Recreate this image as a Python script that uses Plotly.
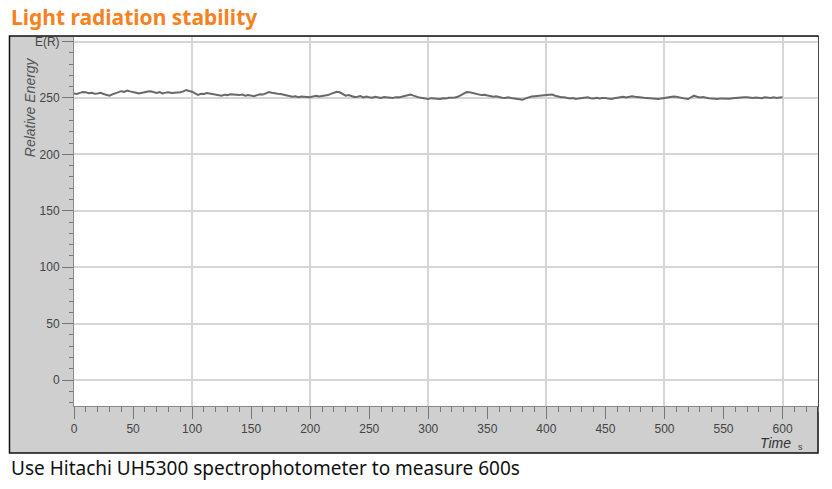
import plotly.graph_objects as go

# relative energy read every 2.5 s (0 .. 600 s)
energy = [
    254, 253.6, 254.5, 255.2, 255, 254.2, 254.5, 253.8, 254, 254.6,
    253.5, 252.8, 252, 253.2, 254, 255.3, 256, 255.4, 256.5, 255.8,
    255.5, 254.6, 254, 254.8, 255, 255.7, 256, 255.1, 254.5, 255.2,
    254, 254.7, 255, 254.3, 254.5, 255.3, 255, 255.8, 257, 256.2,
    255.5, 254, 252.7, 253.6, 253.5, 254.4, 254, 253.2, 253, 252.3,
    252, 252.9, 252.5, 253.3, 253, 252.2, 252.5, 253, 252, 252.6,
    252, 251.6, 252.5, 253.2, 253, 254.2, 255.3, 254.6, 254.5, 253.8,
    253.5, 252.7, 252, 251.5, 251, 251.4, 250.6, 251.2, 251, 250.4,
    250.6, 251.4, 252, 251.2, 251.5, 252.3, 252.5, 253.6, 254.5, 255.4,
    255, 253.4, 252, 252.6, 251.5, 250.9, 251, 251.6, 250.5, 251.2,
    250.6, 250.2, 251, 250.4, 250, 250.8, 250.5, 249.8, 250, 250.7,
    250.5, 251, 251.5, 252.4, 253, 252, 251, 250.3, 250, 249.6,
    249, 249.8, 249.5, 248.9, 249, 249.7, 249.5, 250.2, 250, 250.4,
    251, 252.6, 254, 255.2, 255, 254.3, 254, 253.1, 252.5, 252.8,
    252, 251.3, 251, 251.5, 250.6, 250.1, 250, 250.6, 250, 249.6,
    249, 248.3, 248.5, 249.6, 250.5, 251.2, 251.5, 251.9, 252, 252.6,
    252.5, 252.8, 253, 252, 251, 250.6, 250.5, 249.8, 249.5, 249.9,
    249, 249.6, 250, 250.8, 250.6, 249.8, 249.5, 250.1, 249.5, 249.9,
    250, 249.4, 249, 249.7, 250, 250.7, 251, 250.4, 251, 251.5,
    251, 250.5, 250.6, 250.1, 250, 249.6, 249.5, 249.1, 249, 249.6,
    250, 250.8, 250.6, 251.2, 251, 250.3, 250, 249.4, 249, 250.3,
    252, 251.1, 250.5, 250.9, 250, 249.7, 249.5, 249.2, 249, 249.6,
    249.5, 248.9, 249.3, 249.8, 250, 250.6, 251, 250.7, 250.5, 250.2,
    250, 250.4, 250, 249.8, 250.5, 250.1, 250, 250.5, 250, 250.3,
    250.6,
]
time_s = [i * 2.5 for i in range(len(energy))]

y_ticks = [0, 50, 100, 150, 200, 250, 300]
y_labels = ["0", "50", "100", "150", "200", "250", "E(R)"]

tick_font = dict(family="Liberation Sans Narrow, Liberation Sans, sans-serif", size=12, color="#444")

fig = go.Figure()
fig.add_trace(go.Scatter(x=time_s, y=energy, mode="lines",
                         line=dict(color="#686868", width=2), showlegend=False))
# empty trace that carries the second x axis (grid every 100 s)
fig.add_trace(go.Scatter(x=[0], y=[None], xaxis="x2", showlegend=False, hoverinfo="skip"))

# the page puts the figure 8px in from the corner, so sizes are 8px smaller
fig.update_layout(
    width=824, height=481,
    margin=dict(l=66, r=14, t=29, b=83),
    paper_bgcolor="white", plot_bgcolor="white",
    xaxis=dict(range=[0, 630], dtick=50, tick0=0, showgrid=False, zeroline=False,
               showline=True, linecolor="#888", linewidth=1,
               ticks="outside", ticklen=12, tickcolor="#777", tickwidth=1,
               tickfont=tick_font,
               minor=dict(dtick=10, ticks="outside", ticklen=5, tickcolor="#777", showgrid=False)),
    xaxis2=dict(range=[0, 630], dtick=100, tick0=0, overlaying="x", showgrid=True,
                gridcolor="#d6d6d6", gridwidth=2, showticklabels=False, ticks="",
                zeroline=False, layer="below traces"),
    yaxis=dict(range=[-23, 304], tickvals=y_ticks, ticktext=y_labels,
               showgrid=True, gridcolor="#d6d6d6", gridwidth=2, zeroline=False,
               showline=True, linecolor="#888", linewidth=1,
               ticks="outside", ticklen=11, tickcolor="#777", tickwidth=1,
               tickfont=tick_font,
               minor=dict(dtick=10, ticks="outside", ticklen=4, tickcolor="#777", showgrid=False)),
    shapes=[
        dict(type="rect", xref="paper", yref="paper", x0=-0.0867, x1=1.0, y0=-0.1274, y1=1.0027,
             fillcolor="#cfcfcf", line=dict(color="#111", width=1.5), layer="below"),
        dict(type="rect", xref="paper", yref="paper", x0=0, x1=1.0, y0=0, y1=1.0,
             fillcolor="white", line=dict(width=0), layer="below"),
    ],
    annotations=[
        dict(text="<b>Light radiation stability</b>", xref="paper", yref="paper",
             x=-0.0867, y=1.055, xanchor="left", yanchor="middle", showarrow=False,
             font=dict(family="Noto Sans, sans-serif", size=21, color="#f5821f")),
        dict(text="Use Hitachi UH5300 spectrophotometer to measure 600s", xref="paper", yref="paper",
             x=-0.0867, y=-0.168, xanchor="left", yanchor="middle", showarrow=False,
             font=dict(family="Noto Sans, sans-serif", size=19, color="#111")),
        dict(text="<i>Relative Energy</i>", xref="paper", yref="paper",
             x=-0.059, y=0.81, xanchor="center", yanchor="middle", textangle=-90, showarrow=False,
             font=dict(family="Liberation Sans, sans-serif", size=14, color="#555")),
        dict(text="<i>Time</i>", xref="paper", yref="paper",
             x=0.943, y=-0.1, xanchor="center", yanchor="middle", showarrow=False,
             font=dict(family="Liberation Sans, sans-serif", size=14, color="#333")),
        dict(text="s", xref="paper", yref="paper",
             x=0.976, y=-0.11, xanchor="center", yanchor="middle", showarrow=False,
             font=dict(family="Liberation Sans, sans-serif", size=9, color="#444")),
    ],
)

fig.write_html("out.html")
